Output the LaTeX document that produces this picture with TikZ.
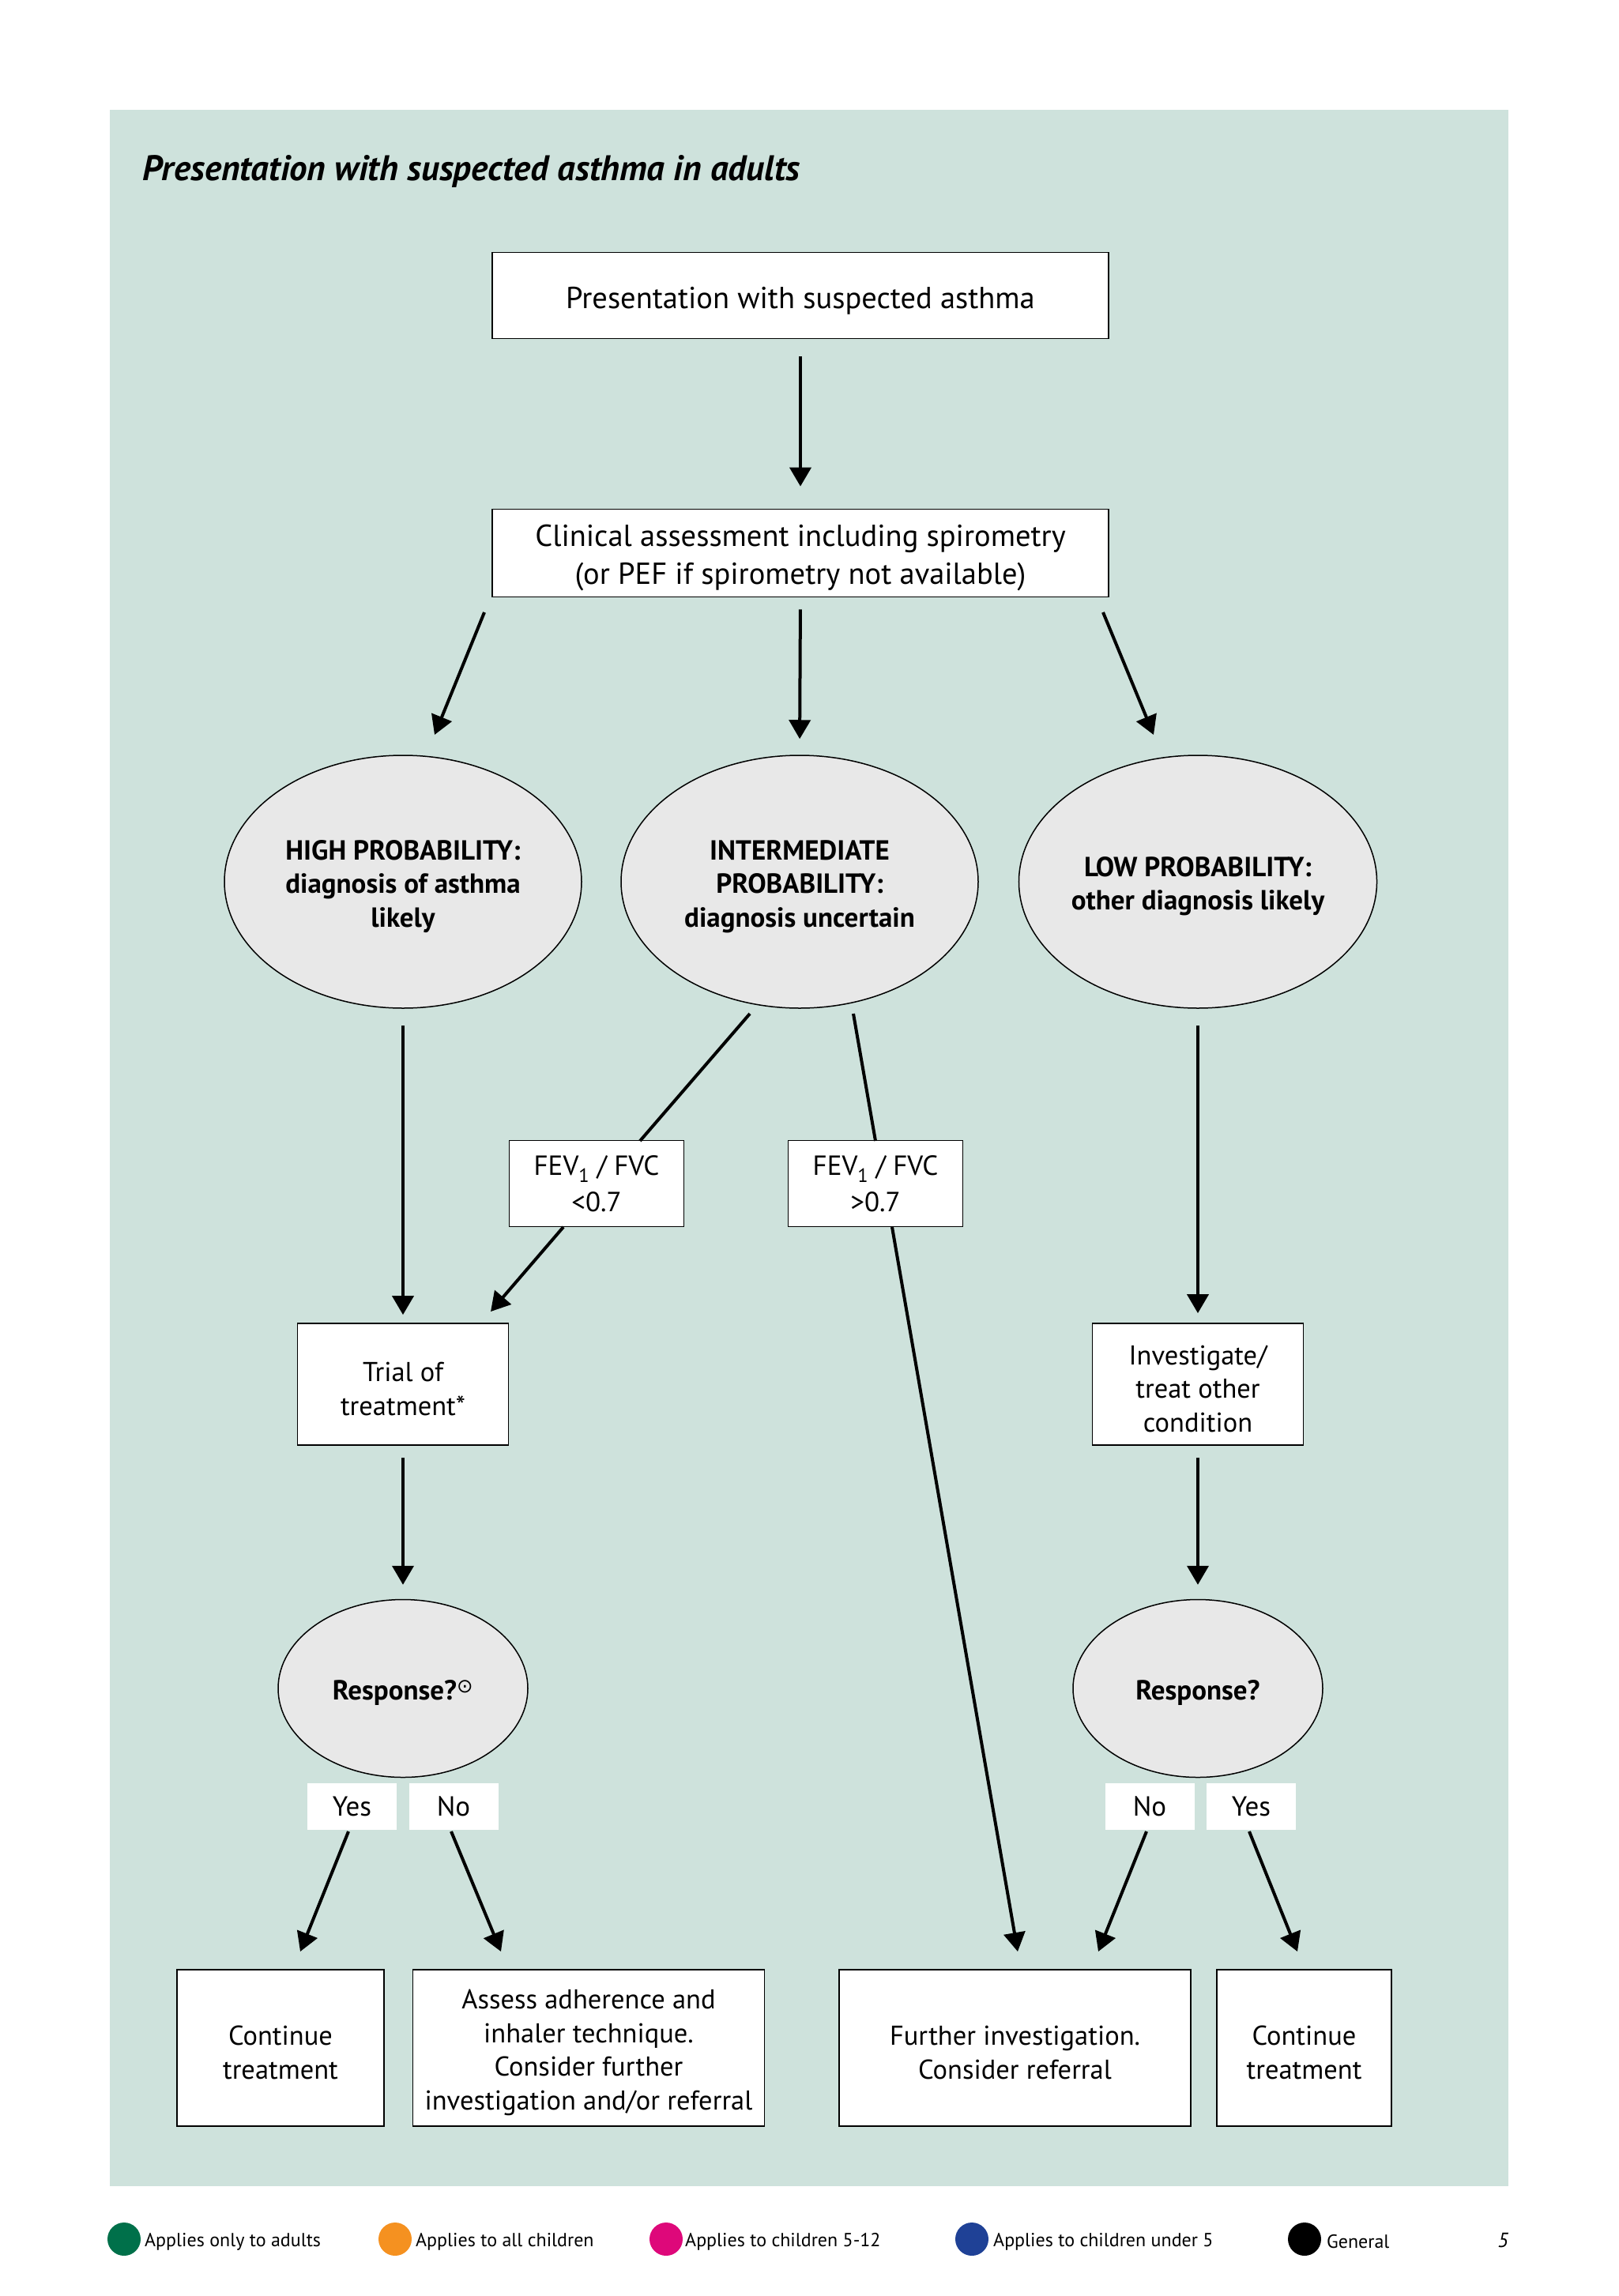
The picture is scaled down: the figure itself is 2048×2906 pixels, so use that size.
\documentclass[tikz,border=0pt]{standalone}
\usepackage{fontspec}
\setmainfont{PT Sans}
\newfontfamily\symfnt{DejaVu Sans}
\usetikzlibrary{arrows.meta,shapes.geometric}
\definecolor{bgteal}{RGB}{206,226,220}
\definecolor{ellgrey}{RGB}{232,232,232}
\definecolor{lgreen}{RGB}{0,112,74}
\definecolor{lorange}{RGB}{245,145,32}
\definecolor{lpink}{RGB}{222,8,122}
\definecolor{lblue}{RGB}{31,65,150}
\newcommand\fsz[2]{\fontsize{#1}{#2}\selectfont}
\newcommand\ts{\rule{0pt}{1.05em}}
\tikzset{
  box/.style={draw=black, line width=1.8pt, fill=white, align=center, inner sep=0pt},
  lowered/.style={execute at begin node=\ts},
  bigtxt/.style={lowered, font=\fsz{38.5}{48}},
  txt/.style={lowered, font=\fsz{34.5}{42.6}},
  fevtxt/.style={font=\fsz{35}{46}},
  oval/.style={ellipse, draw=black, line width=1.5pt, fill=ellgrey, align=center, inner sep=0pt, lowered, font=\bfseries\fsz{35}{42.6}},
  lab/.style={fill=white, inner sep=0pt, minimum width=113pt, minimum height=59pt, font=\fsz{35}{42}},
  arr/.style={line width=4pt, -{Triangle[length=24pt,width=27pt]}},
  ln/.style={line width=4pt},
  dot/.style={circle, inner sep=0pt, minimum size=42pt},
  legtxt/.style={anchor=west, inner sep=0pt, font=\fsz{24}{28}}
}
\begin{document}
\begin{tikzpicture}[x=1pt,y=-1pt]
\useasboundingbox (0,0) rectangle (2048,2906);
\fill[white] (0,0) rectangle (2048,2906);
\fill[bgteal] (139,139) rectangle (1909,2767);

\node[anchor=west, inner sep=0pt, font=\bfseries\itshape\fsz{45}{50}] (title) at (180,217) {Presentation with suspected asthma in adults};

\node[box, bigtxt, minimum width=780pt, minimum height=109pt] (pres) at (1013,374) {Presentation with suspected asthma};
\node[box, bigtxt, minimum width=780pt, minimum height=111pt] (clin) at (1013,700) {\ts Clinical assessment including spirometry\\(or PEF if spirometry not available)};

\node[oval, minimum width=452pt, minimum height=320pt] (high) at (510,1116) {\ts HIGH PROBABILITY:\\diagnosis of asthma\\likely};
\node[oval, minimum width=452pt, minimum height=320pt] (inter) at (1012,1116) {\ts INTERMEDIATE\\PROBABILITY:\\diagnosis uncertain};
\node[oval, minimum width=452pt, minimum height=320pt] (low) at (1516,1116) {\ts LOW PROBABILITY:\\other diagnosis likely};

\node[box, fevtxt, minimum width=221pt, minimum height=109pt] (fevlo) at (755,1498) {FEV\textsubscript{1} / FVC\\<0.7};
\node[box, fevtxt, minimum width=221pt, minimum height=109pt] (fevhi) at (1108,1498) {FEV\textsubscript{1} / FVC\\>0.7};

\node[box, txt, minimum width=267pt, minimum height=154pt] (trial) at (510,1752) {\ts Trial of\\treatment*};
\node[box, txt, minimum width=267pt, minimum height=154pt] (invest) at (1516,1752) {\ts Investigate/\\treat other\\condition};

\node[oval, minimum width=316pt, minimum height=225pt] (resp1) at (510,2137) {Response?\textsuperscript{\symfnt\mdseries ⊙}};
\node[oval, minimum width=316pt, minimum height=225pt] (resp2) at (1516,2137) {Response?};

\node[lab] (yes1) at (445.5,2286.5) {Yes};
\node[lab] (no1) at (574,2286.5) {No};
\node[lab] (no2) at (1455,2286.5) {No};
\node[lab] (yes2) at (1583.5,2286.5) {Yes};

\node[box, txt, minimum width=262pt, minimum height=198pt] (cont1) at (355,2592) {\ts Continue\\treatment};
\node[box, txt, minimum width=445pt, minimum height=198pt] (assess) at (745,2592) {\ts Assess adherence and\\inhaler technique.\\Consider further\\investigation and/or referral};
\node[box, txt, minimum width=445pt, minimum height=198pt] (further) at (1284.5,2592) {\ts Further investigation.\\Consider referral};
\node[box, txt, minimum width=221pt, minimum height=198pt] (cont2) at (1650.5,2592) {\ts Continue\\treatment};

% connector end points
\coordinate (c1s) at (613,775);  \coordinate (c1e) at (550,930);
\coordinate (c3s) at (1396,775); \coordinate (c3e) at (1460,930);
\coordinate (i1s) at (949,1283); \coordinate (i1e) at (810,1444);
\coordinate (f1s) at (713,1553); \coordinate (f1e) at (621,1660);
\coordinate (i2s) at (1080,1283); \coordinate (i2e) at (1108,1444);
\coordinate (f2s) at (1129,1553); \coordinate (f2e) at (1288,2470);
\coordinate (y1s) at (441,2318); \coordinate (y1e) at (380,2470);
\coordinate (n1s) at (571,2318); \coordinate (n1e) at (634,2470);
\coordinate (n2s) at (1451,2318); \coordinate (n2e) at (1390,2470);
\coordinate (y2s) at (1581,2318); \coordinate (y2e) at (1642,2470);

\draw[arr, shorten <=22pt, shorten >=28pt] (pres.south) -- (clin.north);
\draw[arr] (c1s) -- (c1e);
\draw[arr, shorten <=15pt, shorten >=20pt] (clin.south) -- (inter.north);
\draw[arr] (c3s) -- (c3e);
\draw[arr, shorten <=21pt, shorten >=10pt] (high.south) -- (trial.north);
\draw[ln] (i1s) -- (i1e);
\draw[arr] (f1s) -- (f1e);
\draw[ln] (i2s) -- (i2e);
\draw[arr] (f2s) -- (f2e);
\draw[arr, shorten <=21pt, shorten >=12pt] (low.south) -- (invest.north);
\draw[arr, shorten <=15pt, shorten >=18pt] (trial.south) -- (resp1.north);
\draw[arr, shorten <=15pt, shorten >=18pt] (invest.south) -- (resp2.north);
\draw[arr] (y1s) -- (y1e);
\draw[arr] (n1s) -- (n1e);
\draw[arr] (n2s) -- (n2e);
\draw[arr] (y2s) -- (y2e);

% legend
\node[dot, fill=lgreen] (dg) at (157,2834) {};
\node[legtxt] (tg) at (183,2837) {Applies only to adults};
\node[dot, fill=lorange] (do) at (500,2834) {};
\node[legtxt] (to) at (526,2837) {Applies to all children};
\node[dot, fill=lpink] (dp) at (843,2834) {};
\node[legtxt] (tp) at (867,2837) {Applies to children 5-12};
\node[dot, fill=lblue] (db) at (1230,2834) {};
\node[legtxt] (tb) at (1257,2837) {Applies to children under 5};
\node[dot, fill=black] (dk) at (1651,2834) {};
\node[legtxt] (tk) at (1679,2837) {General};
\node[inner sep=0pt, font=\itshape\fsz{26}{30}] (pg) at (1902,2836) {5};
\end{tikzpicture}
\end{document}
